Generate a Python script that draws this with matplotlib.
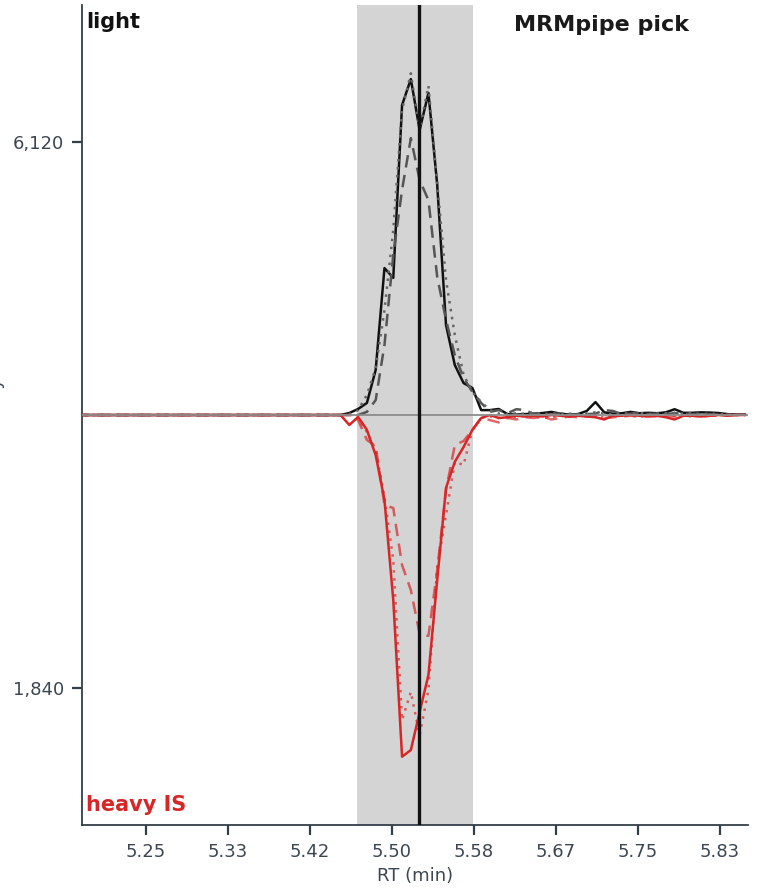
import numpy as np
import matplotlib
matplotlib.use("Agg")
import matplotlib.pyplot as plt

# scan times (min): first scan + fixed scan interval
rt_start = 5.1796
scan_dt = 0.00894
n_scans = 77
rt = rt_start + scan_dt * np.arange(n_scans)

# pick window and apex (min)
pick_start, pick_end = 5.4644, 5.5823
pick_apex = 5.5274

# light transitions (counts), 30 flat scans then the peak region
light_quant = [0] * 30 + [
    0, 45, 135, 270, 1010, 3290, 3070, 6940, 7520, 6380, 7210, 5150, 2015, 1120,
    715, 605, 110, 110, 135, 20, 10, 20, 30, 45, 70, 30, 10, 20, 90, 290, 60,
    30, 40, 70, 40, 50, 40, 60, 130, 50, 50, 60, 55, 45, 20, 10, 10]
light_qual1 = [0] * 30 + [
    0, 0, 0, 70, 335, 1570, 3580, 5040, 6200, 5260, 4810, 3090, 2130, 1340,
    830, 515, 270, 70, 110, 40, 130, 110, 20, 30, 10, 40, 20, 10, 20, 30, 110,
    90, 20, 30, 40, 20, 30, 20, 40, 30, 20, 30, 20, 10, 10, 0, 0]
light_qual2 = [0] * 30 + [
    0, 20, 110, 450, 1050, 2350, 4140, 6830, 7650, 6380, 7370, 5190, 3020, 1790,
    900, 515, 290, 110, 30, 20, 40, 30, 60, 20, 30, 40, 30, 20, 40, 60, 30,
    20, 40, 30, 50, 20, 30, 40, 50, 30, 40, 20, 30, 20, 10, 10, 0]

# heavy IS transitions (counts)
heavy_quant = [0] * 30 + [
    0, 67, 13, 100, 270, 572, 1245, 2300, 2255, 2000, 1750, 1110, 490, 315,
    215, 100, 20, 0, 20, 15, 5, 10, 5, 10, 0, 5, 10, 5, 10, 15, 30,
    5, 5, 0, 5, 10, 5, 15, 30, 5, 5, 10, 5, 0, 5, 0, 0]
heavy_qual1 = [0] * 30 + [
    0, 0, 34, 168, 209, 606, 626, 1010, 1178, 1474, 1487, 1043, 505, 202,
    175, 101, 20, 34, 50, 20, 30, 15, 20, 10, 30, 20, 10, 15, 10, 5, 20,
    15, 10, 5, 10, 5, 10, 5, 10, 5, 5, 10, 5, 5, 0, 0, 0]
heavy_qual2 = [0] * 30 + [
    0, 0, 20, 114, 236, 552, 976, 2053, 1864, 2154, 1851, 1023, 673, 316,
    336, 101, 20, 10, 20, 10, 15, 5, 10, 20, 15, 5, 10, 5, 5, 10, 15,
    10, 5, 5, 10, 5, 5, 10, 5, 5, 10, 5, 5, 0, 0, 0, 0]

xticks = [5.25, 5.3333, 5.4167, 5.50, 5.5833, 5.6667, 5.75, 5.8333]

light = [np.array(v, float) for v in (light_quant, light_qual1, light_qual2)]
heavy = [np.array(v, float) for v in (heavy_quant, heavy_qual1, heavy_qual2)]
light_max = max(v.max() for v in light)
heavy_max = max(v.max() for v in heavy)

slate = "#333f4b"
label_c = "#3c4652"
red = "#d62728"

fig = plt.figure(figsize=(7.6, 8.93), dpi=100)
ax = fig.add_axes([0.108, 0.0761, 0.876, 0.9183])

ax.axvspan(pick_start, pick_end, color="#d4d4d4", lw=0, zorder=0)

styles = ["-", (0, (5, 3)), (0, (1, 2.2))]
light_cols = ["#111111", "#555555", "#666666"]
for v, ls, c in zip(light, styles, light_cols):
    ax.plot(rt, v / light_max, color=c, ls=ls, lw=1.8, zorder=3)
for i, (v, ls) in enumerate(zip(heavy, styles)):
    ax.plot(rt, -v / heavy_max, color=red, ls=ls, lw=1.8,
            alpha=1.0 if i == 0 else 0.7, zorder=3)

ax.axhline(0, color="#8c8c8c", lw=1.3, zorder=4)
ax.axvline(pick_apex, color="#111111", lw=2.4, zorder=5)

ax.set_xlim(5.185, 5.862)
ax.set_ylim(-1.2, 1.2)
ax.set_xticks(xticks)
ax.set_xticklabels([f"{t:.2f}" for t in xticks])
ax.set_yticks([-0.8, 0.8])
ax.set_yticklabels([f"{0.8 * heavy_max:,.0f}", f"{0.8 * light_max:,.0f}"])

for s in ("top", "right"):
    ax.spines[s].set_visible(False)
for s in ("left", "bottom"):
    ax.spines[s].set_color(slate)
    ax.spines[s].set_linewidth(1.3)
ax.tick_params(direction="out", length=7, width=1.6, color=slate,
               labelcolor=label_c, labelsize=13, pad=6)

ax.set_xlabel("RT (min)", fontsize=13, color=label_c, labelpad=4)
ax.set_ylabel("intensity", fontsize=13, color=label_c)
ax.yaxis.set_label_coords(-0.1186, 0.5)

ax.text(0.006, 0.992, "light", transform=ax.transAxes, ha="left", va="top",
        fontsize=15, fontweight="bold", color="#111111")
ax.text(0.006, 0.012, "heavy IS", transform=ax.transAxes, ha="left",
        va="bottom", fontsize=15, fontweight="bold", color=red)
ax.text(0.78, 0.988, "MRMpipe pick", transform=ax.transAxes, ha="center",
        va="top", fontsize=16, fontweight="bold", color="#1a1a1a")

fig.savefig("out.png", dpi=100)
